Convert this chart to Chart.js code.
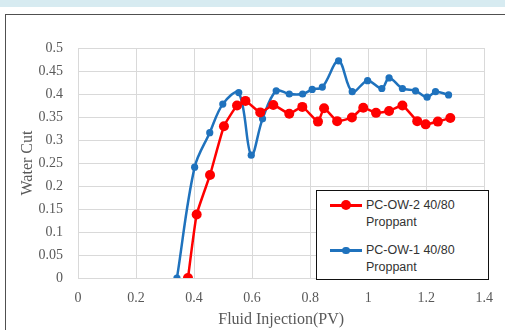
<!DOCTYPE html>
<html lang="en">
  <head>
    <meta charset="UTF-8" />
    <title>Water Cut vs Fluid Injection</title>
    <style>
      html, body {
        margin: 0;
        padding: 0;
        background: #fff;
      }
      #wrap {
        position: relative;
        width: 505px;
        height: 330px;
        overflow: hidden;
      }
      #band {
        position: absolute;
        left: 0;
        top: 0;
        width: 505px;
        height: 7px;
        background: #d7ebf1;
      }
      #frame {
        position: absolute;
        left: 5px;
        top: 14px;
        width: 520px;
        height: 340px;
        border-left: 1.5px solid #505050;
        border-top: 1.5px solid #505050;
      }
      #chart {
        position: absolute;
        left: 0;
        top: 0;
      }
      #legend {
        position: absolute;
        left: 316px;
        top: 190px;
        width: 171px;
        height: 88px;
        border: 1.5px solid #111;
        background: #fff;
        font-family: "Liberation Sans", Arial, sans-serif;
        font-size: 12.5px;
        color: #333;
      }
      .entry {
        position: absolute;
        left: 0;
        line-height: 16.7px;
      }
      .entry .txt {
        position: absolute;
        left: 49px;
        top: 0;
        white-space: nowrap;
      }
      .entry .ln {
        position: absolute;
        left: 13px;
        width: 32px;
        height: 2.5px;
        top: 7px;
      }
      .entry .dot {
        position: absolute;
        border-radius: 50%;
      }
    </style>
  </head>
  <body>
    <div id="wrap">
      <div id="band"></div>
      <div id="frame"></div>
      <canvas id="chart" width="505" height="330"></canvas>
      <div id="legend"></div>
    </div>
    <script src="https://cdn.jsdelivr.net/npm/chart.js"></script>
    <script>
      // dane
      const redLabel = "PC-OW-2 40/80 Proppant"
      const redX = [0.379, 0.409, 0.455, 0.503, 0.548, 0.577, 0.628, 0.673, 0.728, 0.773, 0.827, 0.848, 0.893, 0.944, 0.983, 1.027, 1.072, 1.118, 1.169, 1.198, 1.24, 1.283]
      const redY = [0, 0.138, 0.224, 0.33, 0.375, 0.385, 0.36, 0.376, 0.357, 0.372, 0.34, 0.369, 0.341, 0.349, 0.37, 0.359, 0.363, 0.375, 0.341, 0.334, 0.34, 0.348]

      const blueLabel = "PC-OW-1 40/80 Proppant"
      const blueX = [0.341, 0.402, 0.454, 0.499, 0.554, 0.597, 0.636, 0.683, 0.728, 0.774, 0.807, 0.842, 0.898, 0.945, 0.998, 1.047, 1.072, 1.118, 1.163, 1.203, 1.232, 1.277]
      const blueY = [0, 0.241, 0.316, 0.378, 0.403, 0.267, 0.346, 0.407, 0.4, 0.4, 0.41, 0.415, 0.472, 0.405, 0.429, 0.412, 0.435, 0.412, 0.407, 0.393, 0.405, 0.398]

      const xTicks = [0, 0.2, 0.4, 0.6, 0.8, 1, 1.2, 1.4]
      const yTicks = [0, 0.05, 0.1, 0.15, 0.2, 0.25, 0.3, 0.35, 0.4, 0.45, 0.5]

      const RED = "#ff0000"
      const BLUE = "#1f72bd"
      const GRID = "#d9d9d9"
      const TXT = "#595959"

      function toPoints(xs, ys) {
        return xs.map((x, i) => ({ x: x, y: ys[i] }))
      }

      // 0.50 -> "0.5", 1.0 -> "1"
      function fmt(v) {
        return String(Number(v.toFixed(2)))
      }

      const serif = "'Liberation Serif', 'Times New Roman', serif"

      new Chart(document.getElementById("chart").getContext("2d"), {
        type: "scatter",
        data: {
          datasets: [
            {
              label: redLabel,
              data: toPoints(redX, redY),
              showLine: true,
              borderColor: RED,
              backgroundColor: RED,
              borderWidth: 2.5,
              pointRadius: 5,
              pointBorderWidth: 0,
              tension: 0.15,
            },
            {
              label: blueLabel,
              data: toPoints(blueX, blueY),
              showLine: true,
              borderColor: BLUE,
              backgroundColor: BLUE,
              borderWidth: 2.5,
              pointRadius: 3.6,
              pointBorderWidth: 0,
              tension: 0.35,
            },
          ],
        },
        options: {
          responsive: false,
          animation: false,
          layout: { padding: { left: 0, top: 48, right: 17, bottom: 0 } },
          plugins: {
            legend: { display: false },
            tooltip: { enabled: false },
          },
          scales: {
            x: {
              type: "linear",
              min: 0,
              max: 1.4,
              afterBuildTicks: (s) => {
                s.ticks = xTicks.map((v) => ({ value: v }))
              },
              afterFit: (s) => {
                s.height = 52
              },
              grid: { color: GRID, lineWidth: 1, drawTicks: false },
              border: { color: GRID, width: 1 },
              ticks: {
                padding: 12,
                color: TXT,
                font: { family: serif, size: 14 },
                maxRotation: 0,
                callback: (v) => fmt(v),
              },
              title: {
                display: true,
                text: "Fluid Injection(PV)",
                color: TXT,
                font: { family: serif, size: 16, lineHeight: 1 },
                padding: { top: 0, bottom: 2 },
              },
            },
            y: {
              min: 0,
              max: 0.5,
              afterBuildTicks: (s) => {
                s.ticks = yTicks.map((v) => ({ value: v }))
              },
              afterFit: (s) => {
                s.width = 78
              },
              grid: { color: GRID, lineWidth: 1, drawTicks: false },
              border: { color: GRID, width: 1 },
              ticks: {
                padding: 15,
                color: TXT,
                font: { family: serif, size: 14 },
                callback: (v) => fmt(v),
              },
              title: {
                display: true,
                text: "Water Cut",
                color: TXT,
                font: { family: serif, size: 16, lineHeight: 1.2 },
                padding: { top: 18, bottom: 0 },
              },
            },
          },
        },
      })

      // legenda w ramce (dwie linie tekstu na wpis)
      const legend = document.getElementById("legend")
      const entries = [
        { label: redLabel, color: RED, r: 5, top: 6 },
        { label: blueLabel, color: BLUE, r: 3.6, top: 51 },
      ]
      entries.forEach((e) => {
        const div = document.createElement("div")
        div.className = "entry"
        div.style.top = e.top + "px"
        const words = e.label.split(" ")
        const first = words.slice(0, 2).join(" ")
        const second = words.slice(2).join(" ")
        div.innerHTML =
          '<div class="ln" style="background:' + e.color + '"></div>' +
          '<div class="dot" style="background:' + e.color + ";width:" + 2 * e.r + "px;height:" + 2 * e.r +
          "px;left:" + (29 - e.r) + "px;top:" + (8.2 - e.r) + 'px"></div>' +
          '<div class="txt">' + first + "<br>" + second + "</div>"
        legend.appendChild(div)
      })
    </script>
  </body>
</html>
